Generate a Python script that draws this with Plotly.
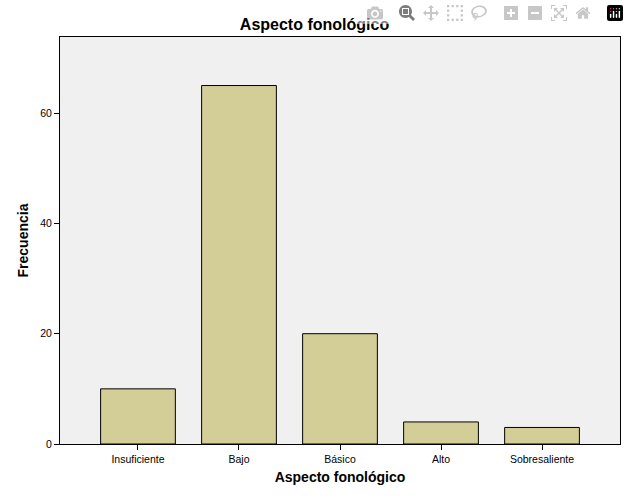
import plotly.graph_objects as go

categories = ["Insuficiente", "Bajo", "Básico", "Alto", "Sobresaliente"]
values = [10, 65, 20, 4, 3]
y_ticks = [0, 20, 40, 60]

fig = go.Figure(go.Bar(
    x=list(range(len(categories))), y=values, width=0.74,
    marker=dict(color="#d3ce98", line=dict(color="black", width=1)),
))
fig.update_layout(
    width=629, height=504,
    margin=dict(l=60, r=9, t=37, b=60),
    paper_bgcolor="white", plot_bgcolor="#f0f0f0",
    font=dict(family="Liberation Sans, Arial", color="black", size=10.5),
    title=dict(text="<b>Aspecto fonológico</b>", x=0.5, xanchor="center", y=0.952, yanchor="middle",
               font=dict(size=16)),
    showlegend=False,
)
fig.update_xaxes(range=[-0.772, 4.772], tickvals=list(range(len(categories))), ticktext=categories,
                 showgrid=False, zeroline=False, ticks="outside", ticklen=5, tickcolor="black",
                 showline=True, linecolor="black", mirror=True,
                 title=dict(text="<b>Aspecto fonológico</b>", font=dict(size=14), standoff=8))
fig.update_yaxes(range=[0, 73.8], tickvals=y_ticks, showgrid=False, zeroline=False,
                 ticks="outside", ticklen=5, tickcolor="black",
                 showline=True, linecolor="black", mirror=True,
                 title=dict(text="<b>Frecuencia</b>", font=dict(size=14), standoff=8))
fig.write_html("out.html", post_script="document.body.style.margin='0';document.body.style.overflow='hidden';")
